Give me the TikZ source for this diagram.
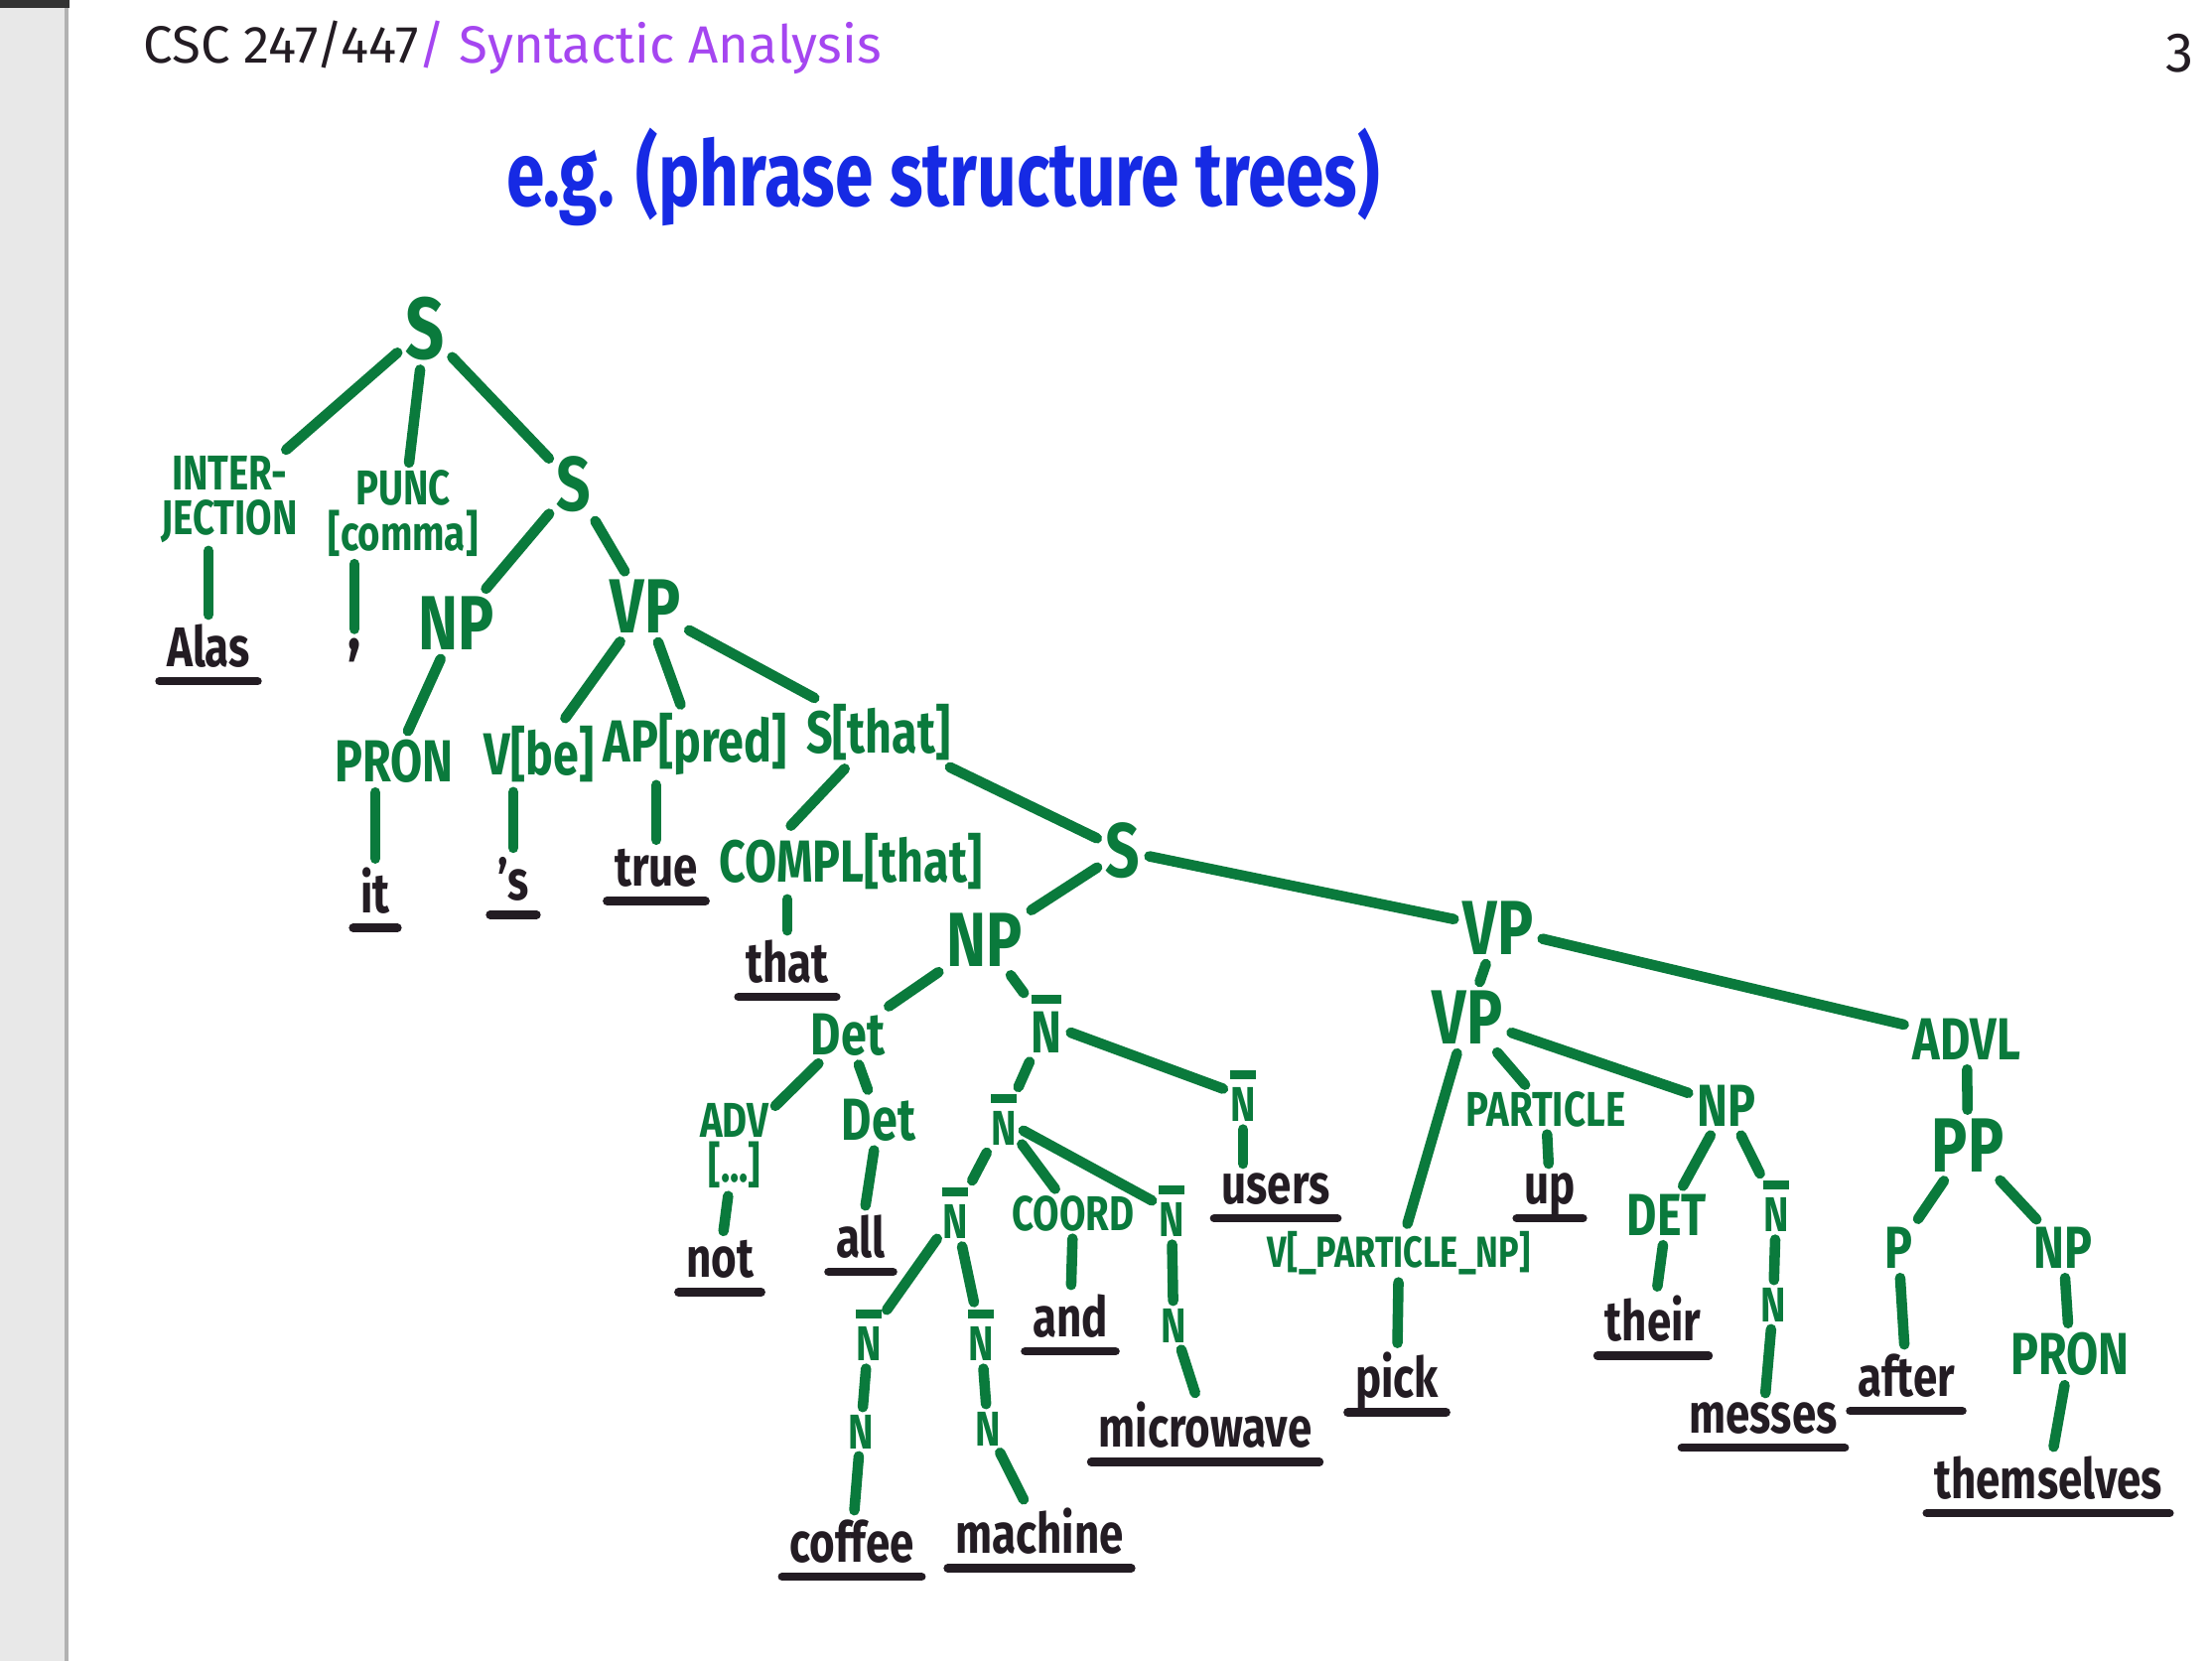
\documentclass[tikz,border=0pt]{standalone}
\usepackage{fontspec}
\setmainfont{Fira Sans}
\newfontfamily\handfont[FakeStretch=0.78]{Fira Sans}
\newfontfamily\titlefont[FakeStretch=0.76]{Fira Sans}
\definecolor{markergreen}{RGB}{10,122,60}
\definecolor{markerblack}{RGB}{35,28,35}
\definecolor{markerblue}{RGB}{22,42,228}
\definecolor{markerpurple}{RGB}{165,70,240}
\newcommand{\barN}{\vbox{\hrule height 2.6pt\kern 2.4pt\hbox{N}}}
\begin{document}
\begin{tikzpicture}[x=0.01cm,y=-0.01cm,
    cat/.style={text=markergreen,font=\handfont\bfseries\fontsize{17}{15}\selectfont,inner sep=1pt,align=center},
    bigcat/.style={cat,font=\handfont\bfseries\fontsize{22}{20}\selectfont},
    smallcat/.style={cat,font=\handfont\bfseries\fontsize{14}{13}\selectfont,inner sep=0.5pt},
    word/.style={text=markerblack,font=\handfont\bfseries\fontsize{16}{18}\selectfont,inner sep=1pt,text depth=0pt,
        append after command={([shift={(-1pt,-3pt)}]\tikzlastnode.south west) edge[underline] ([shift={(1pt,-3pt)}]\tikzlastnode.south east)}},
    underline/.style={draw=markerblack,line width=2.4pt,line cap=round},
    branch/.style={draw=markergreen,line width=3pt,line cap=round,shorten <=1.5pt,shorten >=1.5pt}]
    \useasboundingbox (0,0) rectangle (2228,1673);
    \fill[black!9] (0,0) rectangle (66,1673);
    \draw[black!30,line width=1pt] (67,0) -- (67,1673);
    \fill[black!80] (0,0) rectangle (70,8);
    % heading
    \node[anchor=west,font=\fontsize{15}{16}\selectfont,text=markerblack] (course) at (132,48)
        {CSC 247/447\textcolor{markerpurple}{/ Syntactic Analysis}};
    \node[font=\fontsize{16}{16}\selectfont,text=markerblack] (page) at (2195,54) {3};
    \node[font=\titlefont\bfseries\fontsize{26}{28}\selectfont,text=markerblue] (title) at (950,178)
        {e.g. (phrase structure trees)};
    % categories
    \node[bigcat,font=\handfont\bfseries\fontsize{25}{25}\selectfont] (s) at (428,331) {S};
    \node[smallcat] (interj) at (231,503) {INTER-\\JECTION};
    \node[smallcat] (punc) at (406,517) {PUNC\\{[comma]}};
    \node[bigcat] (s2) at (578,488) {S};
    \node[bigcat] (np1) at (460,628) {NP};
    \node[bigcat] (vp1) at (650,611) {VP};
    \node[cat] (pron1) at (397,767) {PRON};
    \node[cat] (vbe) at (543,760) {V[be]};
    \node[cat] (appred) at (700,750) {AP[pred]};
    \node[cat] (sthat) at (885,738) {S[that]};
    \node[cat] (compl) at (857,868) {COMPL[that]};
    \node[bigcat] (s3) at (1131,857) {S};
    \node[bigcat] (np2) at (992,947) {NP};
    \node[bigcat] (vp2) at (1509,935) {VP};
    \node[cat] (det1) at (854,1042) {Det};
    \node[cat] (nbar1) at (1054,1031) {\barN};
    \node[bigcat] (vp3) at (1478,1025) {VP};
    \node[cat] (advl) at (1981,1047) {ADVL};
    \node[smallcat] (adv) at (740,1154) {ADV\\{[...]}};
    \node[cat] (det2) at (885,1128) {Det};
    \node[smallcat] (nbar2) at (1011,1128) {\barN};
    \node[smallcat] (nbar3) at (1252,1104) {\barN};
    \node[smallcat] (particle) at (1557,1117) {PARTICLE};
    \node[cat] (np3) at (1739,1114) {NP};
    \node[bigcat] (pp) at (1982,1154) {PP};
    \node[smallcat] (nbar4) at (962,1222) {\barN};
    \node[smallcat] (coord) at (1081,1222) {COORD};
    \node[smallcat] (nbar5) at (1180,1220) {\barN};
    \node[smallcat,font=\handfont\bfseries\fontsize{12.5}{13}\selectfont] (vpart) at (1409,1262) {V[\_PARTICLE\_NP]};
    \node[cat] (det3) at (1679,1224) {DET};
    \node[smallcat] (nbar8) at (1789,1215) {\barN};
    \node[cat] (p) at (1912,1257) {P};
    \node[cat] (np4) at (2078,1257) {NP};
    \node[smallcat] (n5) at (1182,1335) {N};
    \node[smallcat] (nbar6) at (875,1345) {\barN};
    \node[smallcat] (nbar7) at (988,1345) {\barN};
    \node[smallcat] (n6) at (867,1442) {N};
    \node[smallcat] (n7) at (995,1439) {N};
    \node[smallcat] (n8) at (1786,1314) {N};
    \node[cat] (pron2) at (2085,1364) {PRON};
    % words
    \node[word] (alas) at (210,650) {Alas};
    \node[text=markerblack,font=\handfont\bfseries\fontsize{20}{20}\selectfont,inner sep=1pt] (comma) at (357,655) {,};
    \node[word] (it) at (378,897) {it};
    \node[word] (aps) at (517,885) {’s};
    \node[word] (true) at (661,874) {true};
    \node[word] (that) at (793,968) {that};
    \node[word] (not) at (725,1268) {not};
    \node[word] (all) at (867,1245) {all};
    \node[word] (users) at (1285,1197) {users};
    \node[word] (up) at (1561,1197) {up};
    \node[word] (and) at (1078,1325) {and};
    \node[word] (microwave) at (1214,1435) {microwave};
    \node[word] (pick) at (1407,1385) {pick};
    \node[word] (their) at (1665,1328) {their};
    \node[word] (messes) at (1776,1428) {messes};
    \node[word] (after) at (1920,1385) {after};
    \node[word] (themselves) at (2063,1488) {themselves};
    \node[word] (coffee) at (858,1552) {coffee};
    \node[word] (machine) at (1047,1542) {machine};
    % branches
    \draw[branch] (s) -- (interj);
    \draw[branch] (s) -- (punc);
    \draw[branch] (s) -- (s2);
    \draw[branch] (alas |- interj.south) -- (alas);
    \draw[branch] (comma |- punc.south) -- (comma);
    \draw[branch] (s2) -- (np1);
    \draw[branch] (s2) -- (vp1);
    \draw[branch] (np1) -- (pron1);
    \draw[branch] (it |- pron1.south) -- (it);
    \draw[branch] (vp1) -- (vbe);
    \draw[branch] (vp1) -- (appred);
    \draw[branch] (vp1) -- (sthat);
    \draw[branch] (aps |- vbe.south) -- (aps);
    \draw[branch] (true |- appred.south) -- (true);
    \draw[branch] (sthat) -- (that |- compl.north);
    \draw[branch] (sthat) -- (s3);
    \draw[branch] (that |- compl.south) -- (that);
    \draw[branch] (s3) -- (np2);
    \draw[branch] (s3) -- (vp2);
    \draw[branch] (np2) -- (det1);
    \draw[branch] (np2) -- (nbar1);
    \draw[branch] (det1) -- (adv);
    \draw[branch] (det1) -- (det2);
    \draw[branch] (adv) -- (not);
    \draw[branch] (det2) -- (all);
    \draw[branch] (nbar1) -- (nbar2);
    \draw[branch] (nbar1) -- (nbar3);
    \draw[branch] (nbar3) -- (nbar3 |- users.north);
    \draw[branch] (nbar2) -- (nbar4);
    \draw[branch] (nbar2) -- (coord);
    \draw[branch] (nbar2) -- (nbar5);
    \draw[branch] (nbar4) -- (nbar6);
    \draw[branch] (nbar4) -- (nbar7);
    \draw[branch] (nbar6) -- (n6);
    \draw[branch] (n6) -- (coffee);
    \draw[branch] (nbar7) -- (n7);
    \draw[branch] (n7) -- (machine);
    \draw[branch] (coord) -- (and);
    \draw[branch] (nbar5) -- (n5);
    \draw[branch] (n5) -- (microwave);
    \draw[branch] (vp2) -- (vp3);
    \draw[branch] (vp2) -- (advl);
    \draw[branch] (vp3) -- (vpart);
    \draw[branch] (vp3) -- (particle);
    \draw[branch] (vp3) -- (np3);
    \draw[branch] (vpart) -- (pick);
    \draw[branch] (particle) -- (up);
    \draw[branch] (np3) -- (det3);
    \draw[branch] (np3) -- (nbar8);
    \draw[branch] (det3) -- (their);
    \draw[branch] (nbar8) -- (n8);
    \draw[branch] (n8) -- (messes);
    \draw[branch] (advl) -- (pp);
    \draw[branch] (pp) -- (p);
    \draw[branch] (pp) -- (np4);
    \draw[branch] (p) -- (after);
    \draw[branch] (np4) -- (pron2);
    \draw[branch] (pron2) -- (themselves);
\end{tikzpicture}
\end{document}
